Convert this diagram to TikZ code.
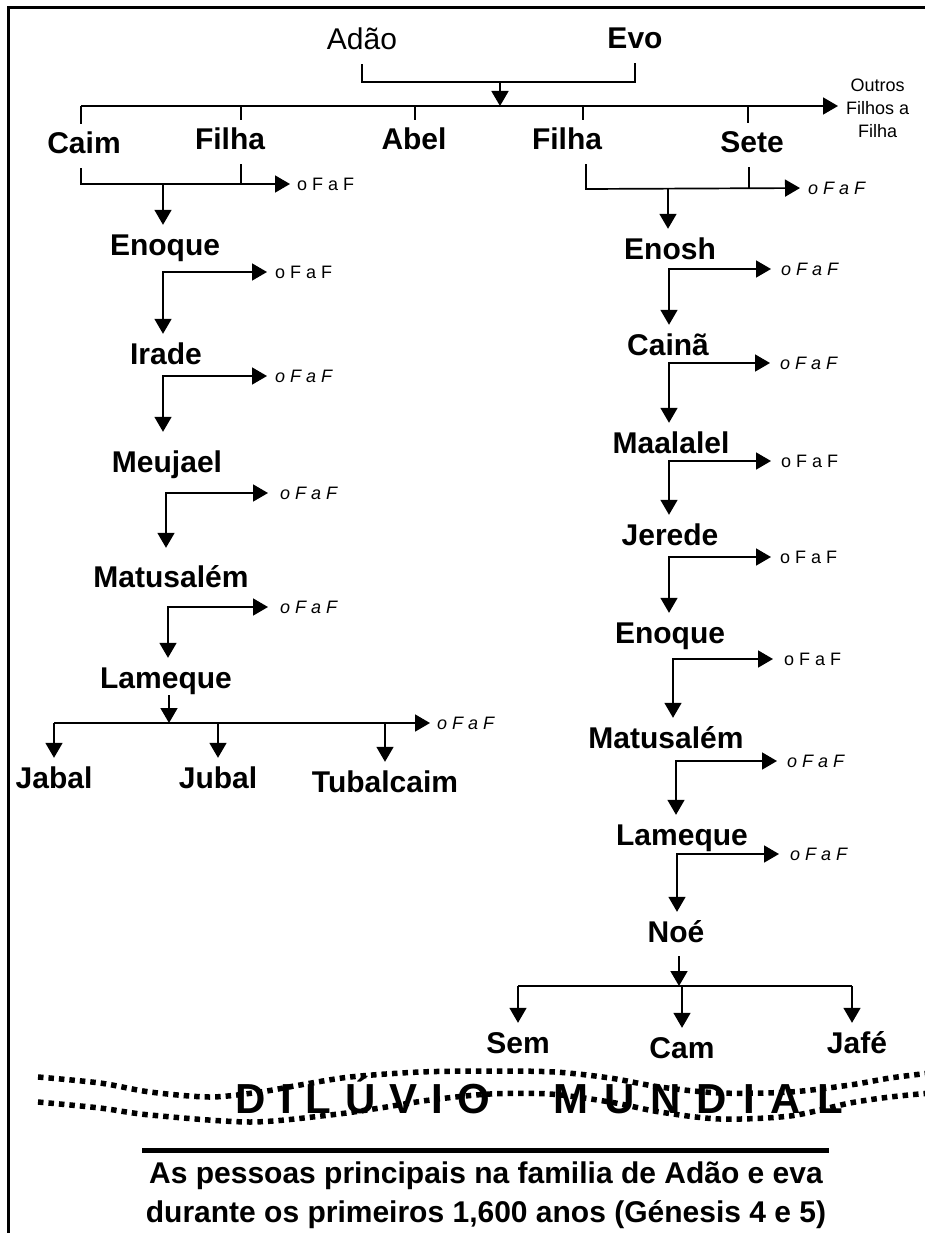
\documentclass[tikz,border=0pt]{standalone}
\usepackage{fontspec}
\setmainfont{Liberation Sans}
\usetikzlibrary{arrows.meta,calc}

\newcommand\ofaf{o F a F}
\newcommand\sepl{\hspace{14pt}}
\newcommand\sepm{\hspace{16pt}}

\tikzset{
  pessoa/.style={font=\bfseries\fontsize{30}{31}\selectfont,anchor=base,
    inner xsep=0pt,inner ysep=8pt,text height=22pt,text depth=6pt},
  nota/.style={font=\fontsize{18}{23}\selectfont,anchor=west,inner sep=0pt},
  notai/.style={nota,font=\itshape\fontsize{18}{23}\selectfont},
  linha/.style={line width=1.7pt},
  seta/.style={linha,-{Triangle[length=15pt,width=17pt]}},
  dupla/.style={linha,{Triangle[length=15pt,width=17pt]}-{Triangle[length=15pt,width=17pt]}},
  onda/.style={line width=5.5pt,dash pattern=on 5.5pt off 5pt}
}

\begin{document}
\begin{tikzpicture}[x=1pt,y=-1pt]
\useasboundingbox (0,0) rectangle (925,1233);
\draw[line width=3pt] (8,1240) -- (8,8) -- (930,8);

% Adao e Evo
\node[pessoa,font=\fontsize{30}{31}\selectfont] (adao) at (362,50) {Adão};
\node[pessoa] (evo) at (635,49) {Evo};
\coordinate (casal) at (500,82);
\coordinate (ramo) at (81,106);
\draw[linha] (adao.south) -- (adao.south |- casal) -- (evo.south |- casal) -- (evo.south);
\draw[seta] (casal) -- (casal |- ramo);

\node[nota,align=center] (outros) at (846,108) {Outros\\Filhos a\\Filha};
\draw[seta,shorten >=8pt] (ramo) -- (ramo -| outros.west);

\node[pessoa] (caim) at (84,154) {Caim};
\node[pessoa] (filha1) at (230,150) {Filha};
\node[pessoa] (abel) at (414,150) {Abel};
\node[pessoa] (filha2) at (567,150) {Filha};
\node[pessoa] (sete) at (752,153) {Sete};
\foreach \x/\n in {81/caim,241/filha1,415/abel,583/filha2,748/sete}{
  \coordinate (r-\n) at (\x,106);
  \draw[linha] (r-\n) -- (r-\n |- \n.north);
}

% Caim
\coordinate (c1) at (163,184);
\node[nota] (of1) at (297,184) {\ofaf};
\draw[seta,shorten >=7pt] (r-caim |- caim.south) -- (r-caim |- c1) -- (of1.west);
\draw[linha] (r-filha1 |- filha1.south) -- (r-filha1 |- c1);
\node[pessoa] (enoque1) at (165,255) {Enoque};
\draw[seta] (c1) -- (c1 |- enoque1.north);

\coordinate (j1) at (163,272);
\node[nota] (of2) at (275,272) {\ofaf};
\node[pessoa] (irade) at (166,364) {Irade};
\draw[dupla,shorten >=8pt] (j1 |- irade.north) -- (j1) -- (of2.west);

\coordinate (j2) at (163,376);
\node[notai] (of3) at (275,376) {\ofaf};
\node[pessoa] (meujael) at (167,472) {Meujael};
\draw[dupla,shorten <=10pt,shorten >=8pt] (j2 |- meujael.north) -- (j2) -- (of3.west);

\coordinate (j3) at (166,493);
\node[notai] (of4) at (280,493) {\ofaf};
\node[pessoa] (matusalem1) at (171,587) {Matusalém};
\draw[dupla,shorten <=9pt,shorten >=12pt] (j3 |- matusalem1.north) -- (j3) -- (of4.west);

\coordinate (j4) at (168,607);
\node[notai] (of5) at (280,607) {\ofaf};
\node[pessoa] (lameque1) at (166,688) {Lameque};
\draw[dupla,shorten >=12pt] (j4 |- lameque1.north) -- (j4) -- (of5.west);

% filhos de Lameque
\coordinate (f1) at (169,723);
\coordinate (fl) at (54,723);
\node[notai] (of6) at (437,723) {\ofaf};
\draw[seta,shorten <=-7pt] (lameque1.south -| f1) -- (f1);
\draw[seta,shorten >=7pt] (fl) -- (of6.west);
\node[pessoa] (jabal) at (54,788) {Jabal};
\node[pessoa] (jubal) at (218,788) {Jubal};
\node[pessoa] (tubalcaim) at (385,792) {Tubalcaim};
\draw[seta] (fl) -- (fl |- jabal.north);
\draw[seta] (jubal.north |- fl) -- (jubal.north);
\draw[seta] (tubalcaim.north |- fl) -- (tubalcaim.north);

% Sete
\coordinate (k1) at (586,189);
\coordinate (k2) at (749,189);
\coordinate (c2) at (668,189);
\node[notai] (of7) at (808,188) {\ofaf};
\draw[seta,shorten >=8pt] (k1 |- filha2.south) -- (k1) -- (of7.west);
\draw[linha] (k2 |- sete.south) -- (k2);
\node[pessoa] (enosh) at (670,259) {Enosh};
\draw[seta] (c2) -- (c2 |- enosh.north);

\coordinate (j5) at (669,269);
\node[notai] (of8) at (781,269) {\ofaf};
\node[pessoa] (caina) at (668,355) {Cainã};
\draw[dupla,shorten >=10pt] (j5 |- caina.north) -- (j5) -- (of8.west);

\coordinate (j6) at (669,363);
\node[notai] (of9) at (780,363) {\ofaf};
\node[pessoa] (maalalel) at (671,453) {Maalalel};
\draw[dupla,shorten >=10pt] (j6 |- maalalel.north) -- (j6) -- (of9.west);

\coordinate (j7) at (669,461);
\node[nota] (of10) at (781,461) {\ofaf};
\node[pessoa] (jerede) at (670,545) {Jerede};
\draw[dupla,shorten >=10pt] (j7 |- jerede.north) -- (j7) -- (of10.west);

\coordinate (j8) at (669,557);
\node[nota] (of11) at (780,557) {\ofaf};
\node[pessoa] (enoque2) at (670,643) {Enoque};
\draw[dupla,shorten >=9pt] (j8 |- enoque2.north) -- (j8) -- (of11.west);

\coordinate (j9) at (673,659);
\node[nota] (of12) at (784,659) {\ofaf};
\node[pessoa] (matusalem2) at (666,748) {Matusalém};
\draw[dupla,shorten >=11pt] (j9 |- matusalem2.north) -- (j9) -- (of12.west);

\coordinate (j10) at (676,761);
\node[notai] (of13) at (787,761) {\ofaf};
\node[pessoa] (lameque2) at (682,845) {Lameque};
\draw[dupla,shorten >=10pt] (j10 |- lameque2.north) -- (j10) -- (of13.west);

\coordinate (j11) at (677,854);
\node[notai] (of14) at (790,854) {\ofaf};
\node[pessoa] (noe) at (676,942) {Noé};
\draw[dupla,shorten >=11pt] (j11 |- noe.north) -- (j11) -- (of14.west);

% filhos de Noe
\coordinate (n1) at (679,986);
\coordinate (nl) at (518,986);
\coordinate (nr) at (852,986);
\draw[seta] (noe.south -| n1) -- (n1);
\draw[linha] (nl) -- (nr);
\node[pessoa] (sem) at (518,1053) {Sem};
\node[pessoa] (cam) at (682,1058) {Cam};
\node[pessoa] (jafe) at (857,1053) {Jafé};
\draw[seta] (nl) -- (nl |- sem.north);
\draw[seta] (cam.north |- nl) -- (cam.north);
\draw[seta] (nr) -- (nr |- jafe.north);

% diluvio
\node[font=\bfseries\fontsize{42}{44}\selectfont,anchor=base,inner sep=0pt] (diluvio) at (363,1113)
  {D\sepl I\sepl L\sepl Ú\sepl V\sepl I\sepl O};
\node[font=\bfseries\fontsize{42}{44}\selectfont,anchor=base,inner sep=0pt] (mundial) at (698,1113)
  {M\sepm U\sepm N\sepm D\sepm I\sepm A\sepm L};
\draw[onda] plot[smooth] coordinates {(38,1077) (100,1083) (150,1092) (210,1097) (260,1092)
  (300,1085) (350,1077) (420,1072) (490,1071) (555,1072) (610,1078) (660,1087) (720,1093)
  (790,1092) (850,1085) (890,1078) (930,1073)};
\draw[onda] plot[smooth] coordinates {(38,1102) (100,1108) (150,1115) (250,1122) (330,1115)
  (380,1108) (430,1100) (490,1094) (550,1094) (610,1102) (660,1112) (720,1119)
  (790,1116) (850,1103) (890,1097) (930,1093)};

\draw[line width=5pt] (142,1150) -- (829,1150);
\node[pessoa] (legenda1) at (486,1183) {As pessoas principais na familia de Adão e eva};
\node[pessoa] (legenda2) at (486,1222) {durante os primeiros 1,600 anos (Génesis 4 e 5)};
\end{tikzpicture}
\end{document}
